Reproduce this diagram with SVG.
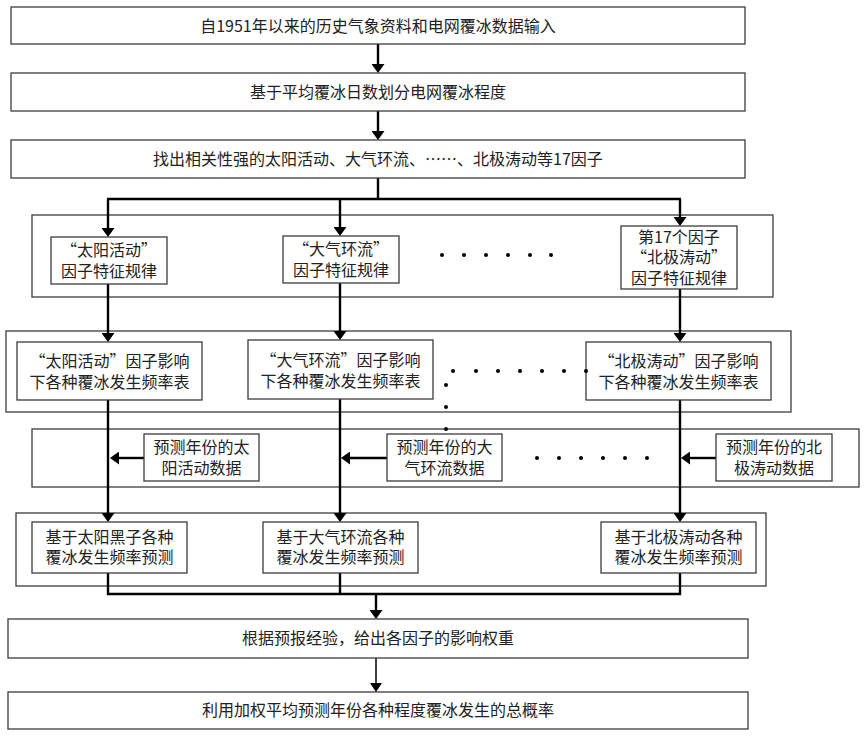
<svg xmlns="http://www.w3.org/2000/svg" width="864" height="736" viewBox="0 0 864 736" xml:lang="zh-CN">
<style>
  .box{fill:#fff;stroke:#3c3c3c;stroke-width:1.3}
  .grp{fill:none;stroke:#3c3c3c;stroke-width:1.3}
  .t{font-family:'Noto Sans CJK SC','Liberation Sans',sans-serif;font-size:16px;fill:#222;text-anchor:middle}
  .c{stroke:#000;stroke-width:2.4;fill:none}
  .cthin{stroke:#000;stroke-width:1.5;fill:none}
  .dot{fill:#000}
</style>
<defs>
  <marker id="ah" viewBox="0 0 9 13" markerWidth="9" markerHeight="13" refX="5" refY="6.5" orient="auto" markerUnits="userSpaceOnUse" preserveAspectRatio="none">
    <path d="M0,0 L9,6.5 L0,13 z" fill="#000"/>
  </marker>
  <marker id="ahs" viewBox="0 0 9 12" markerWidth="9" markerHeight="12" refX="5" refY="6" orient="auto" markerUnits="userSpaceOnUse" preserveAspectRatio="none">
    <path d="M0,0 L9,6 L0,12 z" fill="#000"/>
  </marker>
</defs>

<!-- group frames -->
<g id="frames">
  <rect class="grp" x="32" y="215" width="741" height="82"/>
  <rect class="grp" x="6" y="331" width="785" height="81"/>
  <rect class="grp" x="32" y="429" width="827" height="58"/>
  <rect class="grp" x="16" y="513" width="750" height="73"/>
</g>

<g id="connectors">
  <line class="c" x1="378" y1="44" x2="378" y2="69" marker-end="url(#ah)"/>
  <line class="c" x1="378" y1="111" x2="378" y2="136" marker-end="url(#ah)"/>
  <line class="c" x1="378" y1="178" x2="378" y2="199"/>
  <line class="c" x1="107" y1="199" x2="681" y2="199"/>
  <line class="c" x1="108" y1="199" x2="108" y2="233" marker-end="url(#ah)"/>
  <line class="c" x1="340" y1="199" x2="340" y2="232" marker-end="url(#ah)"/>
  <line class="c" x1="680" y1="199" x2="680" y2="222" marker-end="url(#ah)"/>
  <line class="c" x1="108" y1="284" x2="108" y2="338" marker-end="url(#ah)"/>
  <line class="c" x1="340" y1="283" x2="340" y2="336" marker-end="url(#ah)"/>
  <line class="c" x1="680" y1="289" x2="680" y2="338" marker-end="url(#ah)"/>
  <line class="c" x1="108" y1="400" x2="108" y2="518" marker-end="url(#ah)"/>
  <line class="c" x1="340" y1="399" x2="340" y2="518" marker-end="url(#ah)"/>
  <line class="c" x1="680" y1="400" x2="680" y2="518" marker-end="url(#ah)"/>
  <line class="c" x1="144" y1="458" x2="114" y2="458" marker-end="url(#ah)"/>
  <line class="c" x1="387" y1="458" x2="345" y2="458" marker-end="url(#ah)"/>
  <line class="c" x1="716" y1="458" x2="685" y2="458" marker-end="url(#ah)"/>
  <polyline class="c" points="108,573 108,594 680,594 680,573"/>
  <line class="c" x1="340" y1="573" x2="340" y2="594"/>
  <line class="c" x1="376" y1="594" x2="376" y2="615" marker-end="url(#ah)"/>
  <line class="cthin" x1="376" y1="658" x2="376" y2="688" marker-end="url(#ahs)"/>
</g>

<g id="n1"><rect class="box" x="11" y="7" width="734" height="37"/><text class="t" x="378" y="32">自1951年以来的历史气象资料和电网覆冰数据输入</text></g>
<g id="n2"><rect class="box" x="11" y="73" width="734" height="38"/><text class="t" x="378" y="98">基于平均覆冰日数划分电网覆冰程度</text></g>
<g id="n3"><rect class="box" x="11" y="140" width="734" height="38"/><text class="t" x="378" y="165">找出相关性强的太阳活动、大气环流、……、北极涛动等17因子</text></g>

<g id="f1"><rect class="box" x="51" y="237" width="116" height="47"/><text class="t" x="109" y="256">“太阳活动”</text><text class="t" x="109" y="277">因子特征规律</text></g>
<g id="f2"><rect class="box" x="283" y="236" width="116" height="47"/><text class="t" x="341" y="255">“大气环流”</text><text class="t" x="341" y="276">因子特征规律</text></g>
<g id="f17"><rect class="box" x="621" y="226" width="116" height="63"/><text class="t" x="679" y="243">第17个因子</text><text class="t" x="679" y="263">“北极涛动”</text><text class="t" x="679" y="284">因子特征规律</text></g>
<g id="dots1" class="dot">
  <circle cx="442" cy="255" r="2"/><circle cx="464" cy="255" r="2"/><circle cx="486" cy="255" r="2"/><circle cx="508" cy="255" r="2"/><circle cx="530" cy="255" r="2"/><circle cx="551" cy="255" r="2"/>
</g>

<g id="t1"><rect class="box" x="17" y="342" width="185" height="58"/><text class="t" x="109.5" y="367">“太阳活动”因子影响</text><text class="t" x="109.5" y="388">下各种覆冰发生频率表</text></g>
<g id="t2"><rect class="box" x="248" y="340" width="185" height="59"/><text class="t" x="340.5" y="366">“大气环流”因子影响</text><text class="t" x="340.5" y="387">下各种覆冰发生频率表</text></g>
<g id="t17"><rect class="box" x="586" y="342" width="185" height="58"/><text class="t" x="678.5" y="367">“北极涛动”因子影响</text><text class="t" x="678.5" y="388">下各种覆冰发生频率表</text></g>
<g id="dots2" class="dot">
  <circle cx="453" cy="371" r="2"/><circle cx="476" cy="371" r="2"/><circle cx="498" cy="371" r="2"/><circle cx="520" cy="371" r="2"/><circle cx="542" cy="371" r="2"/><circle cx="564" cy="371" r="2"/><circle cx="586" cy="371" r="2"/>
  <circle cx="446" cy="385" r="2"/><circle cx="446" cy="407" r="2"/><circle cx="446" cy="429" r="2"/>
</g>

<g id="p1"><rect class="box" x="144" y="434" width="115" height="47"/><text class="t" x="201.5" y="453">预测年份的太</text><text class="t" x="201.5" y="474">阳活动数据</text></g>
<g id="p2"><rect class="box" x="387" y="434" width="115" height="47"/><text class="t" x="444.5" y="453">预测年份的大</text><text class="t" x="444.5" y="474">气环流数据</text></g>
<g id="p17"><rect class="box" x="716" y="434" width="116" height="47"/><text class="t" x="774" y="453">预测年份的北</text><text class="t" x="774" y="474">极涛动数据</text></g>
<g id="dots3" class="dot">
  <circle cx="537" cy="458" r="2"/><circle cx="559" cy="458" r="2"/><circle cx="581" cy="458" r="2"/><circle cx="603" cy="458" r="2"/><circle cx="625" cy="458" r="2"/><circle cx="647" cy="458" r="2"/>
</g>

<g id="b1"><rect class="box" x="32" y="522" width="155" height="51"/><text class="t" x="109.5" y="543">基于太阳黑子各种</text><text class="t" x="109.5" y="563">覆冰发生频率预测</text></g>
<g id="b2"><rect class="box" x="263" y="522" width="155" height="51"/><text class="t" x="340.5" y="543">基于大气环流各种</text><text class="t" x="340.5" y="563">覆冰发生频率预测</text></g>
<g id="b17"><rect class="box" x="601" y="522" width="155" height="51"/><text class="t" x="678.5" y="543">基于北极涛动各种</text><text class="t" x="678.5" y="563">覆冰发生频率预测</text></g>

<g id="n5"><rect class="box" x="8" y="619" width="740" height="39"/><text class="t" x="378" y="644">根据预报经验，给出各因子的影响权重</text></g>
<g id="n6"><rect class="box" x="8" y="692" width="740" height="37"/><text class="t" x="378" y="716">利用加权平均预测年份各种程度覆冰发生的总概率</text></g>
</svg>
